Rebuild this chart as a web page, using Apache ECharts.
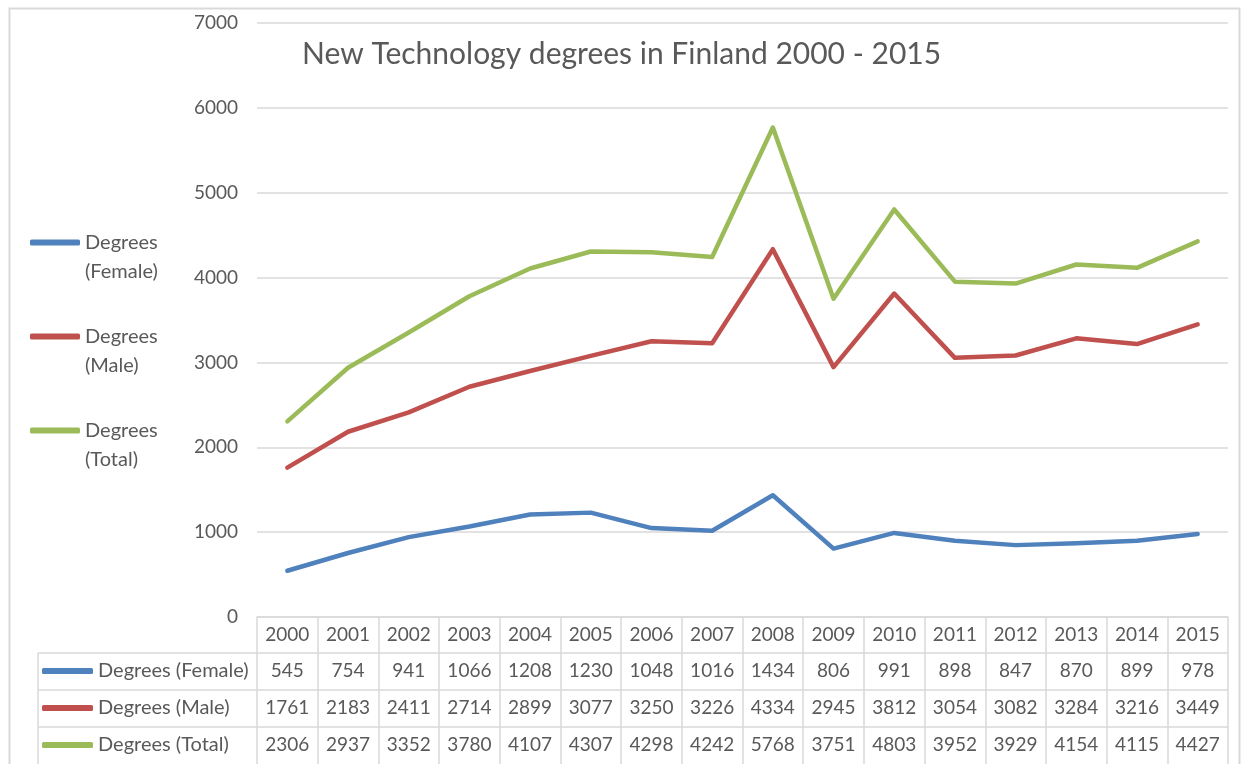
<!DOCTYPE html>
<html lang="en">
<head>
    <meta charset="UTF-8">
    <script type="text/javascript" src="https://cdn.jsdelivr.net/npm/echarts@6/dist/echarts.min.js" charset="utf-8"></script>
    <title>New Technology degrees in Finland</title>
    <style>
        html, body { margin: 0; padding: 0; background: #fff; }
        #main { width: 1247px; height: 764px; }
    </style>
</head>
<body>
<div id="main"></div>
<script>
var years = ['2000', '2001', '2002', '2003', '2004', '2005', '2006', '2007',
             '2008', '2009', '2010', '2011', '2012', '2013', '2014', '2015'];
var female = [545, 754, 941, 1066, 1208, 1230, 1048, 1016, 1434, 806, 991, 898, 847, 870, 899, 978];
var male = [1761, 2183, 2411, 2714, 2899, 3077, 3250, 3226, 4334, 2945, 3812, 3054, 3082, 3284, 3216, 3449];
var total = [2306, 2937, 3352, 3780, 4107, 4307, 4298, 4242, 5768, 3751, 4803, 3952, 3929, 4154, 4115, 4427];
var seriesNames = ['Degrees (Female)', 'Degrees (Male)', 'Degrees (Total)'];
var colors = ['#4F81BD', '#C0504D', '#9BBB59'];

var font = 'Lato';
var txt = '#595959';
var gridColor = '#d9d9d9';
var rowH = 37;

var chartDom = document.getElementById('main');
var myChart = echarts.init(chartDom);

// one extra x axis per table row
function tableAxis(values, offset) {
  return {
    type: 'category',
    gridIndex: 0,
    position: 'bottom',
    offset: offset,
    data: values.map(String),
    axisLine: { show: true, lineStyle: { color: gridColor, width: 1.5 } },
    axisTick: { show: true, length: rowH, lineStyle: { color: gridColor, width: 1.5 } },
    axisLabel: { interval: 0, margin: 8, color: txt, fontFamily: font, fontSize: 19 },
    splitLine: { show: false }
  };
}

var option = {
  backgroundColor: '#fff',
  color: colors,
  title: {
    text: 'New Technology degrees in Finland 2000 - 2015',
    left: 302,
    top: 39,
    padding: 0,
    textStyle: { color: txt, fontFamily: font, fontSize: 30, fontWeight: 'normal' }
  },
  grid: { left: 257, right: 19, top: 23, bottom: 147 },
  legend: [
    {
      // side legend, icon level with the first text line
      orient: 'vertical',
      left: 30,
      top: 199,
      padding: 0,
      height: 400,
      itemGap: 7,
      itemWidth: 50,
      itemHeight: 6,
      icon: 'roundRect',
      data: seriesNames,
      formatter: function (name) { return ' \n' + name.replace(' ', '\n'); },
      textStyle: { color: txt, fontFamily: font, fontSize: 20, lineHeight: 29 }
    },
    {
      // legend keys in the data table
      orient: 'vertical',
      left: 42,
      top: 661,
      padding: 0,
      height: 200,
      itemGap: 17,
      itemWidth: 51,
      itemHeight: 6,
      icon: 'roundRect',
      data: seriesNames,
      textStyle: { color: txt, fontFamily: font, fontSize: 20, lineHeight: 20 }
    }
  ],
  xAxis: [
    {
      type: 'category',
      position: 'bottom',
      data: years,
      axisLine: { show: true, lineStyle: { color: gridColor, width: 1.5 } },
      axisTick: { show: true, length: rowH - 1, lineStyle: { color: gridColor, width: 1.5 } },
      axisLabel: { interval: 0, margin: 8, color: txt, fontFamily: font, fontSize: 19 },
      splitLine: { show: false }
    },
    tableAxis(female, rowH - 1),
    tableAxis(male, 2 * rowH - 1),
    tableAxis(total, 3 * rowH - 1)
  ],
  yAxis: {
    type: 'value',
    min: 0,
    max: 7000,
    interval: 1000,
    axisLine: { show: false },
    axisTick: { show: false },
    axisLabel: { margin: 19, color: txt, fontFamily: font, fontSize: 19, formatter: function (v) { return String(v); } },
    splitLine: { lineStyle: { color: gridColor, width: 1.5 } }
  },
  series: [
    { name: seriesNames[0], type: 'line', data: female, symbol: 'none', lineStyle: { width: 4.5, cap: 'round', join: 'round' } },
    { name: seriesNames[1], type: 'line', data: male, symbol: 'none', lineStyle: { width: 4.5, cap: 'round', join: 'round' } },
    { name: seriesNames[2], type: 'line', data: total, symbol: 'none', lineStyle: { width: 4.5, cap: 'round', join: 'round' } }
  ],
  graphic: [
    // chart border
    { type: 'rect', shape: { x: 9.5, y: 8.5, width: 1230, height: 800 }, style: { fill: null, stroke: gridColor, lineWidth: 2 }, silent: true },
    // left column of the data table
    { type: 'line', shape: { x1: 38, y1: 616 + rowH, x2: 257, y2: 616 + rowH }, style: { stroke: gridColor, lineWidth: 1.5 } },
    { type: 'line', shape: { x1: 38, y1: 616 + 2 * rowH, x2: 257, y2: 616 + 2 * rowH }, style: { stroke: gridColor, lineWidth: 1.5 } },
    { type: 'line', shape: { x1: 38, y1: 616 + 3 * rowH, x2: 257, y2: 616 + 3 * rowH }, style: { stroke: gridColor, lineWidth: 1.5 } },
    { type: 'line', shape: { x1: 38, y1: 616 + rowH, x2: 38, y2: 764 }, style: { stroke: gridColor, lineWidth: 1.5 } }
  ]
};

option && myChart.setOption(option);
</script>
</body>
</html>
